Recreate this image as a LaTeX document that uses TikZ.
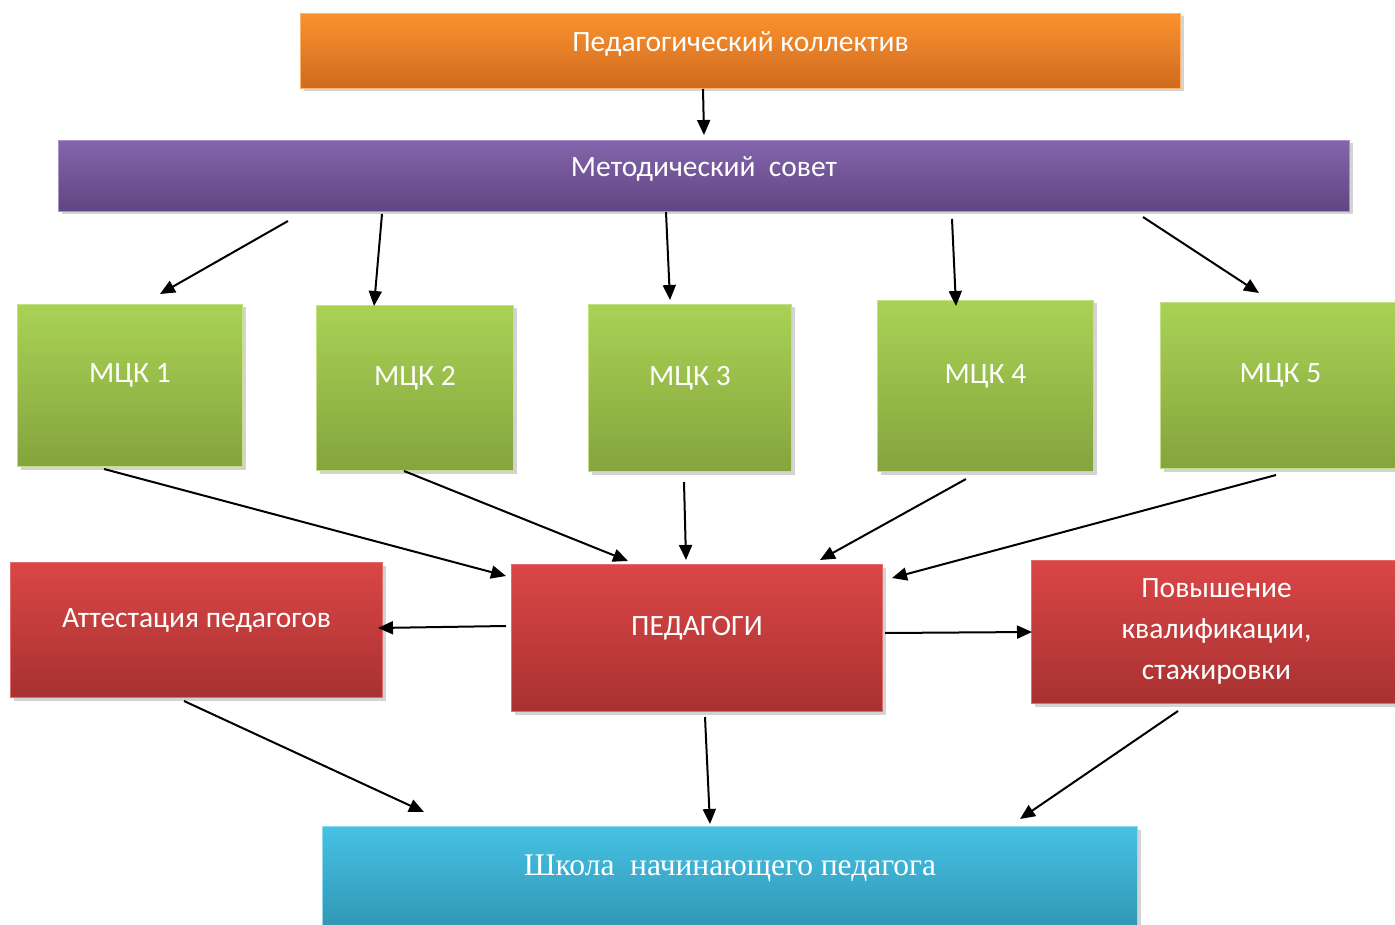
\documentclass[tikz,border=0pt]{standalone}
\usepackage{fontspec}
\setmainfont{Carlito}
\newfontfamily\cyrserif{Liberation Serif}
\usetikzlibrary{arrows.meta,shadows}

\definecolor{orangeT}{HTML}{FB922F}
\definecolor{orangeB}{HTML}{CF6A1F}
\definecolor{purpleT}{HTML}{8465AC}
\definecolor{purpleB}{HTML}{5F4582}
\definecolor{greenT}{HTML}{A9D255}
\definecolor{greenB}{HTML}{85A43D}
\definecolor{redT}{HTML}{DB4646}
\definecolor{redB}{HTML}{A83131}
\definecolor{blueT}{HTML}{45C2E4}
\definecolor{blueB}{HTML}{3192B1}

\tikzset{
  box/.style={rectangle, anchor=north west, inner sep=0pt, text=white,
    align=center, font=\fontsize{29.5}{41}\selectfont, text depth=24pt,
    drop shadow={opacity=0.35, shadow xshift=3pt, shadow yshift=-3pt}},
  orangebox/.style={box, top color=orangeT, bottom color=orangeB, draw=orangeT!70!white, line width=1pt, text depth=19pt},
  purplebox/.style={box, top color=purpleT, bottom color=purpleB, draw=purpleT!70!white, line width=1pt, text depth=19pt},
  greenbox/.style={box, top color=greenT, bottom color=greenB, draw=greenT!70!white, line width=1pt},
  redbox/.style={box, top color=redT, bottom color=redB, draw=redT!80!white, line width=1pt},
  bluebox/.style={box, top color=blueT, bottom color=blueB, draw=blueT!60!white, line width=1pt,
    font=\cyrserif\fontsize{31.5}{36}\selectfont, text depth=33pt},
  arr/.style={-{Triangle[length=15pt,width=13pt]}, line width=2pt, black}
}

\begin{document}
\begin{tikzpicture}[x=1pt,y=-1pt]
\useasboundingbox (0,0) rectangle (1395,925);

% boxes
\node[orangebox, minimum width=880pt, minimum height=75pt] (pc) at (300,13) {Педагогический коллектив};
\node[purplebox, minimum width=1291pt, minimum height=71pt] (ms) at (58,140) {Методический\ \ совет};
\node[greenbox, minimum width=225pt, minimum height=162pt] (m1) at (17,304) {МЦК 1};
\node[greenbox, minimum width=197pt, minimum height=165pt] (m2) at (316,305) {МЦК 2};
\node[greenbox, minimum width=203pt, minimum height=167pt] (m3) at (588,304) {МЦК 3};
\node[greenbox, minimum width=216pt, minimum height=171pt] (m4) at (877,300) {МЦК 4};
\node[greenbox, minimum width=240pt, minimum height=166pt] (m5) at (1160,302) {МЦК 5};
\node[redbox, minimum width=372pt, minimum height=135pt] (at) at (10,562) {Аттестация педагогов};
\node[redbox, minimum width=371pt, minimum height=147pt] (pd) at (511,564) {ПЕДАГОГИ};
\node[redbox, minimum width=370pt, minimum height=143pt, text depth=6pt] (pk) at (1031,560) {Повышение\\квалификации,\\стажировки};
\node[bluebox, minimum width=815pt, minimum height=110pt] (sh) at (322,826) {Школа\ \ начинающего педагога};

% arrows
\draw[arr] ([shift={(403,0)}]pc.south west) -- ([shift={(646,-5)}]ms.north west);
\draw[arr] ([shift={(230,9)}]ms.south west) -- ([shift={(143,-10)}]m1.north west);
\draw[arr] ([shift={(324,2)}]ms.south west) -- ([shift={(58,1)}]m2.north west);
\draw[arr] ([shift={(608,0)}]ms.south west) -- ([shift={(82,-4)}]m3.north west);
\draw[arr] ([shift={(894,7)}]ms.south west) -- ([shift={(79,6)}]m4.north west);
\draw[arr] ([shift={(1085,5)}]ms.south west) -- ([shift={(99,-9)}]m5.north west);
\draw[arr] ([shift={(87,2)}]m1.south west) -- ([shift={(-5,12)}]pd.north west);
\draw[arr] ([shift={(88,0)}]m2.south west) -- ([shift={(117,-3)}]pd.north west);
\draw[arr] ([shift={(96,10)}]m3.south west) -- ([shift={(175,-4)}]pd.north west);
\draw[arr] ([shift={(89,7)}]m4.south west) -- ([shift={(309,-4)}]pd.north west);
\draw[arr] ([shift={(116,6)}]m5.south west) -- ([shift={(381,14)}]pd.north west);
\draw[arr] ([shift={(-5,62)}]pd.north west) -- ([shift={(368,66)}]at.north west);
\draw[arr] ([shift={(374,69)}]pd.north west) -- ([shift={(1,72)}]pk.north west);
\draw[arr] ([shift={(174,3)}]at.south west) -- ([shift={(102,-14)}]sh.north west);
\draw[arr] ([shift={(194,5)}]pd.south west) -- ([shift={(388,-2)}]sh.north west);
\draw[arr] ([shift={(147,7)}]pk.south west) -- ([shift={(698,-7)}]sh.north west);
\end{tikzpicture}
\end{document}
